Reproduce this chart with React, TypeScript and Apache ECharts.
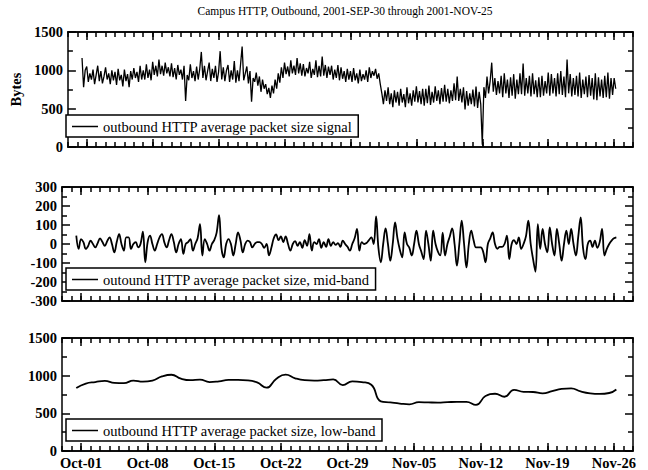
import React, { useEffect, useRef } from 'react';
import * as echarts from 'echarts';

const titleText = 'Campus HTTP, Outbound, 2001-SEP-30 through 2001-NOV-25';
const xTickDays = [0, 7, 14, 21, 28, 35, 42, 49, 56];
const xTickLabels = ['Oct-01', 'Oct-08', 'Oct-15', 'Oct-22', 'Oct-29', 'Nov-05', 'Nov-12', 'Nov-19', 'Nov-26'];
const signalStart = -0.5;
const signalStep = 1 / 6;
const midStart = -0.5;
const midStep = 0.25;

const signalName = 'outbound HTTP average packet size signal';
const midName = 'outound HTTP average packet size, mid-band';
const lowName = 'outbound HTTP average packet size, low-band';

const signalValues = [
  1160, 780, 1000,
  1050, 850, 960, 880, 1010, 820,
  940, 1060, 860, 990, 830, 920,
  1040, 880, 960, 820, 1000, 870,
  980, 810, 1020, 870, 940, 790,
  1010, 860, 950, 780, 990, 880,
  1030, 900, 980, 850, 1060, 880,
  1000, 880, 1080, 900, 1010, 870,
  1110, 940, 1060, 920, 1140, 950,
  1060, 930, 1100, 960, 1040, 920,
  1090, 910, 1030, 880, 1070, 940,
  1010, 880, 1060, 600, 940, 870,
  1080, 900, 990, 860, 1050, 880,
  1020, 1240, 900, 1060, 870, 990,
  1100, 860, 1020, 900, 1060, 850,
  980, 1250, 880, 1040, 860, 1000,
  1070, 850, 1000, 880, 1120, 840,
  1000, 860, 1080, 1310, 870, 960,
  1050, 830, 990, 590, 900, 850,
  970, 800, 920, 720, 880, 760,
  820, 690, 770, 640, 800, 700,
  880, 760, 960, 840, 1040, 900,
  1100, 950, 1050, 920, 1130, 960,
  1060, 940, 1160, 960, 1090, 930,
  1080, 920, 1030, 960, 1110, 900,
  1020, 940, 1130, 910, 1060, 920,
  1180, 930, 1070, 900, 1050, 940,
  1060, 880, 1010, 900, 1070, 870,
  1040, 890, 990, 850, 1020, 880,
  990, 850, 1030, 870, 960, 830,
  1010, 860, 950, 880, 1000, 850,
  1040, 900, 990, 930, 1020, 890,
  960, 820, 700, 560, 740, 600,
  780, 560, 700, 520, 740, 580,
  720, 540, 760, 580, 690, 520,
  780, 570, 700, 540, 740, 590,
  790, 580, 730, 560, 760, 540,
  760, 570, 800, 550, 720, 580,
  790, 600, 740, 560, 770, 590,
  810, 590, 760, 570, 740, 600,
  830, 610, 920, 600, 760, 580,
  780, 490, 730, 540, 700, 560,
  750, 530, 790, 510, 720, 560,
  30, 780, 640, 920, 700, 860,
  1100, 720, 900, 680, 860, 700,
  930, 650, 960, 700, 880, 640,
  910, 670, 950, 630, 880, 690,
  960, 690, 1090, 670, 900, 700,
  930, 660, 960, 690, 870, 650,
  910, 650, 930, 670, 860, 700,
  970, 670, 950, 700, 900, 660,
  960, 690, 990, 680, 920, 650,
  1140, 700, 950, 660, 900, 680,
  930, 660, 970, 640, 880, 690,
  920, 650, 940, 670, 900, 620,
  960, 610, 910, 660, 880, 640,
  930, 650, 970, 630, 900, 680,
  900, 760,
];

const midBandValues = [
  44, -26,
  26, 10, -26, -10,
  18, 0, -18, 5,
  30, 10, -10, 15,
  35, 0, -44, 10,
  52, 0, -35, 35,
  35, -26, 0, 10,
  -18, 0, 65, -96,
  10, 44, 0, -35,
  0, 35, 52, 10,
  -18, 20, 52, 10,
  -44, 0, 26, -52,
  0, 10, 26, -35,
  0, 30, 105, -61,
  26, 0, -35, 0,
  20, 60, 152, -20,
  -70, 0, 26, 0,
  -61, 0, 61, 20,
  -44, 0, 18, 10,
  -18, 0, 10, 10,
  0, -20, 0, -60,
  -20, 30, 50, 20,
  40, 10, 40, 0,
  -35, 0, 15, -10,
  10, -20, 20, -10,
  52, -35, 10, 0,
  26, -20, 10, -15,
  26, -10, 10, -5,
  5, -15, 18, 0,
  -15, -35, 0, 30,
  80, -35, 10, 0,
  5, 20, 35, 0,
  145, -20, -96, 0,
  82, 0, -88, 0,
  114, 30, -30, -70,
  61, 0, -20, -61,
  0, 70, 0, -40,
  -80, 70, 0, -88,
  70, 0, -40, -60,
  60, -61, 0, 40,
  82, 0, -114, 0,
  123, 0, -123, 0,
  70, 20, -18, -18,
  -18, -40, -96, 0,
  30, 61, 0, -25,
  -15, -15, 0, 44,
  -79, 0, 20, 0,
  35, -26, 0, 40,
  123, 0, -80, -146,
  105, -26, 79, 0,
  -44, 88, 0, -61,
  79, 0, -88, 0,
  70, 0, 79, 0,
  -61, 40, 140, -20,
  -79, 0, 18, -15,
  18, -20, 10, 80,
  -61, -26, 0, 18,
  30, 35,
];

const lowBandDays = [
  -0.5, 0.5, 1.5, 2.5, 3.5, 4.5, 5.5, 6.5, 7.5, 8.5, 9.5, 10.5, 11.5, 12.5, 13.5, 14.5,
  15.5, 16.5, 17.5, 18.5, 19.5, 20.5, 21.5, 22.5, 23.5, 24.5, 25.5, 26.5, 27.5, 28.5,
  29.5, 30.5, 31.5, 32.5, 33.5, 34.5, 35.5, 36.5, 37.5, 38.5, 39.5, 40.5, 41.5, 42.5,
  43.5, 44.5, 45.5, 46.5, 47.5, 48.5, 49.5, 50.5, 51.5, 52.5, 53.5, 54.5, 55.5, 56.25,
];
const lowBandValues = [
  835, 895, 915, 930, 905, 900, 935, 920, 935, 990, 1012, 960, 940, 948, 915, 925,
  943, 943, 938, 910, 840, 957, 1013, 965, 940, 935, 940, 950, 875, 925,
  915, 880, 660, 645, 630, 620, 648, 645, 643, 648, 652, 652, 612, 730,
  760, 720, 812, 785, 783, 765, 795, 825, 832, 790, 765, 758, 770, 817,
];

const FONT = '"Liberation Serif", "Times New Roman", "DejaVu Serif", serif';
const TICK_COLOR = '#000';

function sampled(values: number[], start: number, step: number) {
  return values.map((v, i) => [start + i * step, v]);
}

export default function App() {
  const ref = useRef<HTMLDivElement>(null);
  useEffect(() => {
    if (!ref.current) return;
    const chart = echarts.init(ref.current, undefined, { renderer: 'svg' });
    const plotLeft = 62;
    const plotRight = 15;
    const grids = [
      { top: 32, height: 115 },
      { top: 187, height: 114 },
      { top: 338, height: 114 },
    ];
    const lineC = { color: '#000', width: 1.5 };
    const tickStyle = { color: TICK_COLOR, width: 1.5 };
    const xAxes: any[] = [];
    const yAxes: any[] = [];
    const yConf = [
      { min: 0, max: 1500, interval: 500 },
      { min: -300, max: 300, interval: 100 },
      { min: 0, max: 1500, interval: 500 },
    ];
    const labelFont = { color: '#000', fontFamily: FONT, fontSize: 14.5, fontWeight: 'bold' };
    grids.forEach((g, gi) => {
      const base = { type: 'value', gridIndex: gi, min: -2, max: 58, splitLine: { show: false } };
      xAxes.push({
        ...base,
        position: 'bottom',
        axisLine: { show: true, onZero: false, lineStyle: lineC },
        axisTick: { show: true, inside: true, length: 8, customValues: xTickDays, lineStyle: tickStyle },
        axisLabel: {
          show: gi === 2,
          customValues: xTickDays,
          margin: 4,
          ...labelFont,
          formatter: (v: number) => xTickLabels[Math.round(v / 7)] ?? '',
        },
      });
      xAxes.push({
        ...base,
        position: 'top',
        axisLine: { show: true, onZero: false, lineStyle: lineC },
        axisTick: { show: true, inside: true, length: 8, customValues: xTickDays, lineStyle: tickStyle },
        axisLabel: { show: false, customValues: xTickDays },
      });
      xAxes.push({
        ...base,
        position: 'bottom',
        interval: 1,
        axisLine: { show: true, onZero: false, lineStyle: lineC },
        axisTick: { show: true, inside: true, length: 5, lineStyle: tickStyle },
        axisLabel: { show: false },
      });
      xAxes.push({
        ...base,
        position: 'top',
        interval: 1,
        axisLine: { show: true, onZero: false, lineStyle: lineC },
        axisTick: { show: true, inside: true, length: 5, lineStyle: tickStyle },
        axisLabel: { show: false },
      });
      const yc = yConf[gi];
      const ybase = {
        type: 'value',
        gridIndex: gi,
        min: yc.min,
        max: yc.max,
        interval: yc.interval,
        splitLine: { show: false },
        axisLine: { show: true, onZero: false, lineStyle: lineC },
        axisTick: { show: true, inside: true, length: 8, lineStyle: tickStyle },
        minorTick: { show: true, splitNumber: 2, length: 5, lineStyle: tickStyle },
      };
      yAxes.push({
        ...ybase,
        position: 'left',
        axisLabel: {
          show: true,
          margin: 5,
          ...labelFont,
          formatter: (v: number) => String(v),
        },
        ...(gi === 0
          ? {
              name: 'Bytes',
              nameLocation: 'middle',
              nameGap: 33,
              nameRotate: 90,
              nameTextStyle: { ...labelFont },
            }
          : {}),
      });
      yAxes.push({ ...ybase, position: 'right', axisLabel: { show: false } });
    });

    const legendBase = {
      left: 66,
      orient: 'horizontal',
      icon: 'rect',
      itemWidth: 26,
      itemHeight: 1.5,
      itemGap: 6,
      selectedMode: false,
      borderColor: '#000',
      borderWidth: 1.5,
      borderRadius: 0,
      backgroundColor: '#fff',
      padding: [4, 6, 3, 6],
      textStyle: { color: '#000', fontFamily: FONT, fontSize: 14.5 },
    };

    chart.setOption({
      animation: false,
      title: {
        text: titleText,
        left: 345,
        top: 5,
        padding: 0,
        textAlign: 'center',
        textStyle: { color: '#000', fontFamily: FONT, fontSize: 11.5, fontWeight: 'normal' },
      },
      grid: grids.map((g) => ({ left: plotLeft, right: plotRight, top: g.top, height: g.height })),
      xAxis: xAxes,
      yAxis: yAxes,
      legend: [
        { ...legendBase, top: 115, data: [signalName] },
        { ...legendBase, top: 268, data: [midName] },
        { ...legendBase, top: 419, data: [lowName] },
      ],
      series: [
        {
          name: signalName,
          type: 'line',
          xAxisIndex: 0,
          yAxisIndex: 0,
          data: sampled(signalValues, signalStart, signalStep),
          symbol: 'none',
          lineStyle: { color: '#000', width: 1.3 },
          itemStyle: { color: '#000' },
        },
        {
          name: midName,
          type: 'line',
          xAxisIndex: 4,
          yAxisIndex: 2,
          data: sampled(midBandValues, midStart, midStep),
          symbol: 'none',
          smooth: 0.4,
          lineStyle: { color: '#000', width: 1.8 },
          itemStyle: { color: '#000' },
        },
        {
          name: lowName,
          type: 'line',
          xAxisIndex: 8,
          yAxisIndex: 4,
          data: lowBandDays.map((d, i) => [d, lowBandValues[i]]),
          symbol: 'none',
          smooth: 0.5,
          lineStyle: { color: '#000', width: 1.8 },
          itemStyle: { color: '#000' },
        },
      ],
    });
    return () => chart.dispose();
  }, []);
  return <div ref={ref} style={{ position: 'fixed', left: 0, top: 0, width: 648, height: 470, background: '#fff' }} />;
}
